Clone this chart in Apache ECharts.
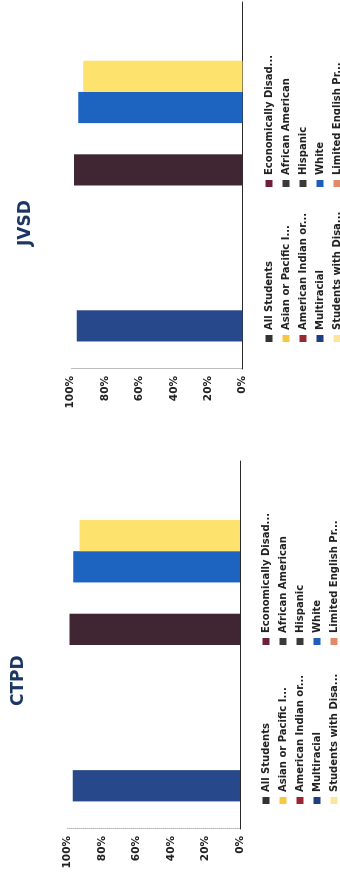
<!DOCTYPE html>
<html>
<head>
<meta charset="utf-8">
<script src="https://cdn.jsdelivr.net/npm/echarts@6/dist/echarts.min.js"></script>
<style>
  html, body { margin: 0; padding: 0; background: #ffffff; overflow: hidden; width: 340px; height: 874px; }
  #page { position: absolute; left: 0; top: 0; width: 874px; height: 380px;
          transform-origin: 0 0; transform: translate(0px, 874px) rotate(-90deg); background: #ffffff; }
</style>
</head>
<body>
<div id="page"></div>
<script>
// ---------- data ----------
const chartTitles = ['CTPD', 'JVSD'];
const categories = [''];
const seriesNames = ['All Students', 'Economically Disad...', 'Asian or Pacific I...', 'African American',
  'American Indian or...', 'Hispanic', 'Multiracial', 'White', 'Students with Disa...', 'Limited English Pr...'];
const ctpdValues = [97.0, null, null, null, null, 98.8, null, 96.6, 93.0, null];
const jvsdValues = [96.5, null, null, null, null, 98.1, null, 95.6, 92.7, null];
const valueTicks = [0, 20, 40, 60, 80, 100];
const legendColumn1 = ['All Students', 'Asian or Pacific I...', 'American Indian or...', 'Multiracial', 'Students with Disa...'];
const legendColumn2 = ['Economically Disad...', 'African American', 'Hispanic', 'White', 'Limited English Pr...'];

// ---------- styles ----------
const barColors = {
  'All Students': '#27498b', 'Economically Disad...': '#6e1f3d', 'Asian or Pacific I...': '#f7c744',
  'African American': '#3a3a3a', 'American Indian or...': '#9c2532', 'Hispanic': '#402632',
  'Multiracial': '#203f80', 'White': '#1d63c0', 'Students with Disa...': '#fde26e', 'Limited English Pr...': '#e08a6a'
};
const legendColors = {
  'All Students': '#333333', 'Economically Disad...': '#6e1f3d', 'Asian or Pacific I...': '#f7c744',
  'African American': '#3a3a3a', 'American Indian or...': '#9c2532', 'Hispanic': '#3a3a3a',
  'Multiracial': '#203f80', 'White': '#1f5dbb', 'Students with Disa...': '#fde59a', 'Limited English Pr...': '#e08a6a'
};
const FONT = 'DejaVu Sans';

const layouts = [
  { grid: { left: 45, top: 67.5, width: 368, height: 172.5 }, title: { left: 168, top: 10 },
    legends: [{ left: 70, top: 260 }, { left: 229, top: 260 }], values: ctpdValues },
  { grid: { left: 505, top: 70.7, width: 367, height: 171.8 }, title: { left: 628, top: 17 },
    legends: [{ left: 532, top: 263 }, { left: 687, top: 263 }], values: jvsdValues }
];

const chart = echarts.init(document.getElementById('page'), null, { renderer: 'canvas', width: 874, height: 380 });

const option = {
  animation: false,
  backgroundColor: '#ffffff',
  textStyle: { fontFamily: FONT },
  title: layouts.map((l, i) => ({
    text: chartTitles[i], left: l.title.left, top: l.title.top, padding: 0,
    textStyle: { fontFamily: FONT, fontSize: 17, fontWeight: 'bold', color: '#1c3664' }
  })),
  legend: [],
  grid: layouts.map(l => Object.assign({ containLabel: false }, l.grid)),
  xAxis: layouts.map((l, i) => ({
    type: 'category', gridIndex: i, data: categories,
    axisLine: { show: true, lineStyle: { color: '#2a2a2a', width: 1 } },
    axisTick: { show: false }, axisLabel: { show: false }, splitLine: { show: false }
  })),
  yAxis: layouts.map((l, i) => ({
    type: 'value', gridIndex: i, min: valueTicks[0], max: valueTicks[valueTicks.length - 1],
    interval: valueTicks[1] - valueTicks[0],
    axisLine: { show: true, lineStyle: { color: '#b5b5b5', type: 'dotted', width: 1 } },
    axisTick: { show: false }, splitLine: { show: false },
    axisLabel: { margin: 7, fontFamily: FONT, fontSize: 10.5, fontWeight: 'bold', color: '#222222',
                 formatter: v => v + '%' }
  })),
  series: []
};

layouts.forEach((l, i) => {
  [legendColumn1, legendColumn2].forEach((col, c) => {
    option.legend.push({
      orient: 'vertical', left: l.legends[c].left, top: l.legends[c].top, padding: 0,
      itemWidth: 7, itemHeight: 7, itemGap: 5, icon: 'rect', selectedMode: false,
      textStyle: { fontFamily: FONT, fontSize: 10, fontWeight: 'bold', color: '#222222', lineHeight: 12 },
      data: col.map(n => ({ name: n, itemStyle: { color: legendColors[n] } }))
    });
  });
  seriesNames.forEach((name, s) => {
    option.series.push({
      type: 'bar', name: name, xAxisIndex: i, yAxisIndex: i,
      barGap: '0%', barCategoryGap: '15%',
      itemStyle: { color: barColors[name] },
      data: [l.values[s]]
    });
  });
});

chart.setOption(option);
</script>
</body>
</html>
